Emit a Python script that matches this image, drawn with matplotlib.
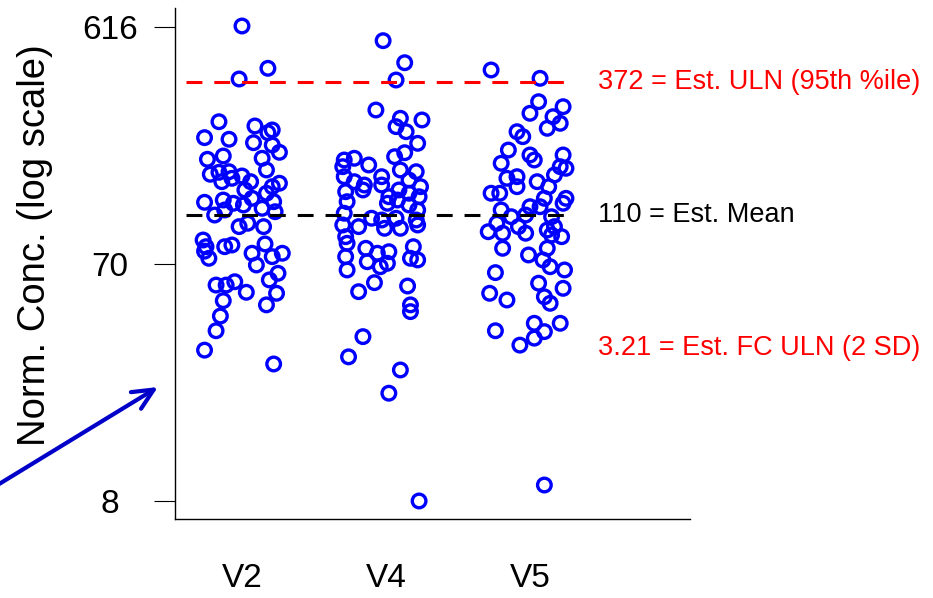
import matplotlib
matplotlib.use('Agg')
import matplotlib.pyplot as plt
from matplotlib.patches import FancyArrowPatch
from matplotlib.ticker import NullLocator

plt.rcParams['font.family'] = ['Liberation Sans', 'DejaVu Sans']

# categories and tick values
groups = ['V2', 'V4', 'V5']
y_ticks = [8, 70, 616]

# reference levels
uln_95 = 372
est_mean = 110

# normalised concentrations per visit and their x jitter
v2_conc = [621.6, 421.9, 382.5, 258.6, 223.5, 220.2, 248.7, 239.8, 233.9, 213.4,
           208.9, 195.4, 183.3, 188.9, 185.0, 159.8, 162.7, 163.6, 149.3, 154.0,
           157.3, 149.3, 166.2, 147.2, 142.6, 134.3, 138.4, 128.2, 123.6, 126.2,
           122.5, 120.6, 110.0, 115.2, 117.0, 124.3, 113.4, 98.9, 102.0, 98.9,
           87.5, 82.3, 74.0, 79.0, 82.3, 83.6, 84.4, 77.5, 69.6, 75.1,
           77.5, 64.5, 60.7, 57.9, 57.9, 59.7, 54.2, 50.2, 53.7, 48.3,
           43.6, 38.1, 31.9, 28.1]
v2_jit = [0.00, 0.18, -0.02, -0.16, -0.26, -0.09, 0.09, 0.21, 0.18, 0.08,
          0.21, 0.26, -0.24, -0.13, 0.14, -0.22, -0.16, -0.09, -0.14, -0.07,
          0.00, 0.06, 0.17, 0.26, 0.21, 0.17, 0.02, 0.07, -0.26, -0.13,
          -0.06, 0.01, -0.19, -0.12, 0.14, 0.22, 0.23, -0.02, 0.04, 0.15,
          -0.27, -0.25, -0.23, -0.26, -0.12, -0.07, 0.16, 0.07, 0.10, 0.21,
          0.28, 0.25, 0.19, -0.18, -0.11, -0.05, 0.03, -0.13, 0.24, 0.17,
          -0.15, -0.18, -0.26, 0.22]

v4_conc = [543.4, 444.1, 379.0, 287.9, 266.9, 262.8, 247.2, 236.0, 212.2, 187.7,
           194.7, 182.1, 185.0, 171.3, 174.0, 166.2, 163.6, 156.3, 149.3, 144.8,
           156.3, 144.8, 151.6, 142.6, 136.2, 138.4, 138.4, 134.3, 130.1, 130.1,
           124.3, 122.5, 126.2, 120.6, 115.2, 111.8, 106.8, 105.1, 106.8, 105.1,
           100.4, 98.9, 97.4, 97.4, 100.4, 90.2, 84.9, 81.1, 77.5, 78.6,
           82.3, 74.0, 72.9, 75.1, 66.5, 71.7, 68.5, 70.7, 59.2, 54.5,
           57.4, 48.3, 45.4, 36.1, 30.0, 26.6, 21.5, 8.01]
v4_jit = [-0.02, 0.13, 0.07, -0.07, 0.10, 0.25, 0.07, 0.14, 0.22, 0.06,
          0.13, -0.29, -0.22, -0.30, -0.12, 0.10, 0.21, -0.29, -0.22, -0.15,
          -0.03, -0.03, 0.16, 0.24, -0.28, -0.16, 0.09, 0.16, 0.02, 0.23,
          -0.27, 0.01, 0.08, 0.16, 0.22, -0.29, -0.10, -0.03, 0.07, 0.21,
          -0.30, -0.19, -0.01, 0.10, 0.22, -0.28, -0.27, -0.14, -0.06, 0.02,
          0.19, 0.17, 0.22, -0.28, -0.27, -0.13, -0.04, 0.01, -0.08, -0.19,
          0.15, 0.17, 0.17, -0.16, -0.26, 0.10, 0.02, 0.23]

v5_conc = [415.5, 384.9, 310.7, 296.8, 279.4, 270.8, 254.9, 243.5, 236.0, 225.5,
           199.5, 190.7, 182.1, 190.7, 176.7, 171.3, 168.8, 158.8, 154.0, 156.3,
           142.6, 149.3, 142.6, 134.3, 134.3, 128.2, 128.2, 122.5, 115.2, 118.7,
           118.7, 108.3, 110.0, 108.3, 102.0, 94.4, 93.1, 98.9, 93.1, 95.9,
           98.9, 90.2, 91.6, 81.1, 76.3, 81.1, 72.9, 68.5, 66.5, 64.9,
           58.9, 56.2, 53.7, 50.5, 52.0, 49.0, 38.1, 40.8, 40.8, 37.8,
           35.6, 33.4, 9.27]
v5_jit = [-0.27, 0.07, 0.06, 0.23, 0.00, 0.16, 0.21, 0.12, -0.09, -0.05,
          -0.15, 0.00, 0.03, 0.23, -0.20, 0.21, 0.25, 0.17, -0.16, -0.09,
          -0.09, 0.05, 0.13, -0.27, -0.21, 0.10, 0.25, 0.23, -0.20, 0.00,
          0.07, -0.13, -0.03, 0.15, -0.23, -0.29, -0.19, -0.08, -0.03, 0.12,
          0.17, 0.22, 0.15, -0.19, -0.01, 0.12, 0.09, 0.14, 0.24, -0.24,
          0.06, 0.23, -0.28, -0.16, 0.10, 0.14, -0.24, 0.03, 0.21, 0.10,
          0.03, -0.07, 0.10]

conc = [v2_conc, v4_conc, v5_conc]
jit = [v2_jit, v4_jit, v5_jit]

fig = plt.figure(figsize=(9.33, 5.98), dpi=100)
ax = fig.add_axes([0.1876, 0.1321, 0.5519, 0.8545])

for i in range(len(groups)):
    xs = [i + 1 + j for j in jit[i]]
    ax.scatter(xs, conc[i], s=96, facecolors='none', edgecolors='#0000ff',
               linewidths=2.4, zorder=2)

# reference lines
ax.plot([0.61, 3.31], [uln_95, uln_95], color='#ff0000', lw=2.2,
        dashes=(5.2, 3.9), zorder=3)
ax.plot([0.61, 3.31], [est_mean, est_mean], color='black', lw=2.2,
        dashes=(5.2, 3.9), zorder=3)

ax.text(3.47, uln_95, '372 = Est. ULN (95th %ile)', color='#ff0000',
        fontsize=19.5, va='center', ha='left')
ax.text(3.47, est_mean, '110 = Est. Mean', color='black',
        fontsize=19.5, va='center', ha='left')
ax.text(3.47, 32.5, '3.21 = Est. FC ULN (2 SD)', color='#ff0000',
        fontsize=19.5, va='center', ha='left')

ax.set_yscale('log')
ax.set_ylim(6.79, 733)
ax.set_xlim(0.535, 4.111)
ax.yaxis.set_minor_locator(NullLocator())
ax.set_yticks(y_ticks)
ax.set_yticklabels([str(t) for t in y_ticks], fontsize=24)
for lab in ax.get_yticklabels():
    lab.set_horizontalalignment('center')
ax.tick_params(axis='y', length=15, width=0.8, pad=32)
ax.set_xticks([1, 2, 3])
ax.set_xticklabels(groups, fontsize=24)
ax.tick_params(axis='x', length=0, pad=32)

ax.spines['top'].set_visible(False)
ax.spines['right'].set_visible(False)
ax.spines['left'].set_linewidth(1.0)
ax.spines['bottom'].set_linewidth(1.0)

fig.text(35 / 933, 1 - 245 / 598, 'Norm. Conc. (log scale)', rotation=90,
         fontsize=27.5, ha='center', va='center')

arrow = FancyArrowPatch(posA=(-0.01, 0.182), posB=(0.1693, 0.3528),
                        transform=fig.transFigure,
                        arrowstyle='->,head_length=15,head_width=7',
                        mutation_scale=1, lw=3, color='#0000c8',
                        shrinkA=0, shrinkB=0)
fig.add_artist(arrow)

fig.savefig('out.png', dpi=100)
